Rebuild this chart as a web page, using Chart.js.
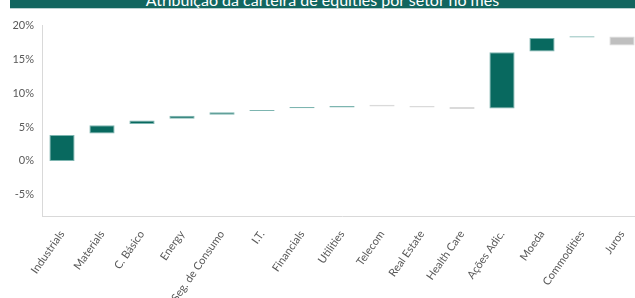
<!DOCTYPE html>
<html>
<head>
<meta charset="utf-8">
<script src="https://cdn.jsdelivr.net/npm/chart.js@4/dist/chart.umd.min.js"></script>
<style>
  html, body { margin: 0; padding: 0; background: #ffffff; overflow: hidden; width: 635px; height: 298px; }
  #wrap { position: absolute; left: 0; top: 0; width: 650px; height: 298px; }
  #title { position: absolute; left: 10px; top: 0; width: 625px; height: 8px; background: #12665f; overflow: hidden; z-index: 2;
           border-bottom: 1px solid #b9d1cf; }
  #title span { position: absolute; left: 0; right: 0; top: -10px; text-align: center; color: #ffffff;
                font-family: Lato, "Open Sans", sans-serif; font-size: 16px; white-space: nowrap; }
</style>
</head>
<body>
<div id="title"><span>Atribuição da carteira de equities por setor no mês</span></div>
<div id="wrap"><canvas id="c" width="650" height="298"></canvas></div>
<script>
const categories = ["Industrials", "Materials", "C. Básico", "Energy", "Seg. de Consumo", "I.T.", "Financials",
  "Utilities", "Telecom", "Real Estate", "Health Care", "Ações Adic.", "Moeda", "Commodities", "Juros"];
const barStart = [0.0, 4.05, 5.45, 6.2, 6.8, 7.35, 7.75, 7.85, 8.25, 8.1, 7.95, 7.7, 16.1, 18.15, 18.3];
const barEnd   = [3.8, 5.25, 5.95, 6.65, 7.15, 7.5, 7.95, 8.1, 8.0, 7.85, 7.65, 16.0, 18.1, 18.35, 17.0];
const yTickValues = [-5, 0, 5, 10, 15, 20];

const data = categories.map((c, i) => [barStart[i], barEnd[i]]);
const fills = categories.map((c, i) => barEnd[i] >= barStart[i] ? '#08695f' : '#bfbfbf');
const borders = categories.map((c, i) => barEnd[i] >= barStart[i] ? '#7db5b0' : '#dadada');

new Chart(document.getElementById('c'), {
  type: 'bar',
  data: {
    labels: categories,
    datasets: [{
      data: data,
      backgroundColor: fills,
      borderColor: borders,
      borderWidth: 1,
      borderSkipped: false,
      categoryPercentage: 1,
      barPercentage: 0.63
    }]
  },
  options: {
    responsive: false,
    animation: false,
    layout: { padding: { left: 0, right: 8, top: 25, bottom: 0 } },
    plugins: { legend: { display: false }, tooltip: { enabled: false }, title: { display: false } },
    scales: {
      y: {
        min: -8.1, max: 20,
        afterFit: s => { s.width = 42; },
        afterBuildTicks: s => { s.ticks = yTickValues.map(v => ({ value: v })); },
        grid: { display: false, drawTicks: false },
        border: { display: true, color: '#d9d9d9', width: 1 },
        ticks: {
          padding: 8,
          color: '#595959',
          font: { family: 'Lato, "Open Sans", sans-serif', size: 11 },
          callback: v => v + '%'
        }
      },
      x: {
        afterFit: s => { s.height = 82; },
        grid: { display: false, drawTicks: false },
        border: { display: true, color: '#d9d9d9', width: 1 },
        ticks: {
          autoSkip: false,
          maxRotation: 55, minRotation: 55,
          padding: 12,
          color: '#595959',
          font: { family: 'Lato, "Open Sans", sans-serif', size: 11 }
        }
      }
    }
  }
});
</script>
</body>
</html>
